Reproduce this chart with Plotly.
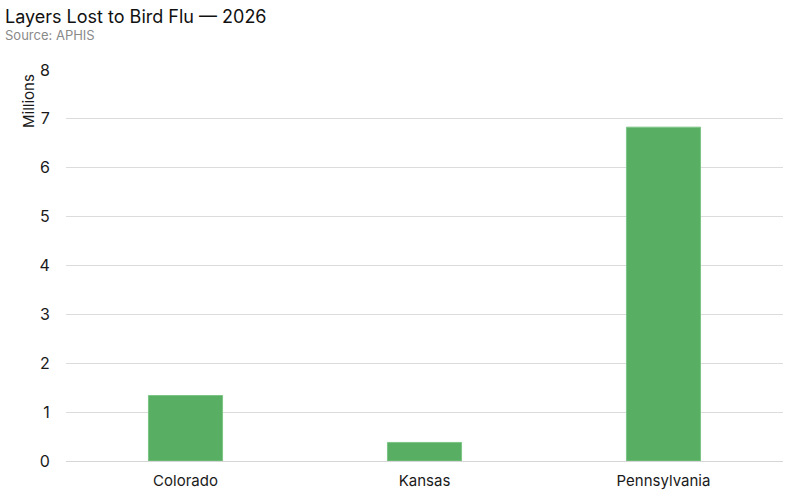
import plotly.graph_objects as go

states = ["Colorado", "Kansas", "Pennsylvania"]
layers_millions = [1.34, 0.38, 6.83]
y_ticks = [0, 1, 2, 3, 4, 5, 6, 7, 8]

L, R, T, B = 66, 17, 70, 39
W, H = 800, 500
pw, ph = W - L - R, H - T - B

fig = go.Figure(go.Bar(
    x=states, y=layers_millions,
    marker=dict(color="#58ae63", line=dict(color="#7cc585", width=1)),
    width=0.31,
))

font = "Inter, Roboto, sans-serif"
fig.update_layout(
    width=W, height=H,
    margin=dict(l=L, r=R, t=T, b=B, autoexpand=False),
    plot_bgcolor="white", paper_bgcolor="white",
    showlegend=False,
    font=dict(family=font, size=15, color="#1a1a1a"),
    xaxis=dict(showgrid=False, showline=True, linecolor="#d6d6d6", linewidth=1,
               automargin=False,
               ticks="outside", ticklen=6, tickcolor="rgba(0,0,0,0)",
               tickfont=dict(size=15, color="#1a1a1a")),
    yaxis=dict(range=[0, 8], tickvals=y_ticks, showgrid=True, gridcolor="#dcdcdc",
               gridwidth=1, zeroline=False, showline=False, automargin=False,
               ticks="outside", ticklen=12, tickcolor="rgba(0,0,0,0)",
               tickfont=dict(size=16, color="#1a1a1a")),
    annotations=[
        dict(text="Layers Lost to Bird Flu — 2026", xref="paper", yref="paper",
             x=(3 - L) / pw, y=(H - B - 16) / ph, xanchor="left", yanchor="middle",
             showarrow=False, font=dict(size=18, color="#111111", family=font)),
        dict(text="Source: APHIS", xref="paper", yref="paper",
             x=(3 - L) / pw, y=(H - B - 35) / ph, xanchor="left", yanchor="middle",
             showarrow=False, font=dict(size=13, color="#8a8a8a", family=font)),
        dict(text="Millions", xref="paper", yref="paper", textangle=-90,
             x=(28 - L) / pw, y=(H - B - 101) / ph, xanchor="center", yanchor="middle",
             showarrow=False, font=dict(size=15, color="#1a1a1a", family=font)),
    ],
)

fig.write_html("out.html", config={"displayModeBar": False},
               post_script="document.body.style.margin='0';")
